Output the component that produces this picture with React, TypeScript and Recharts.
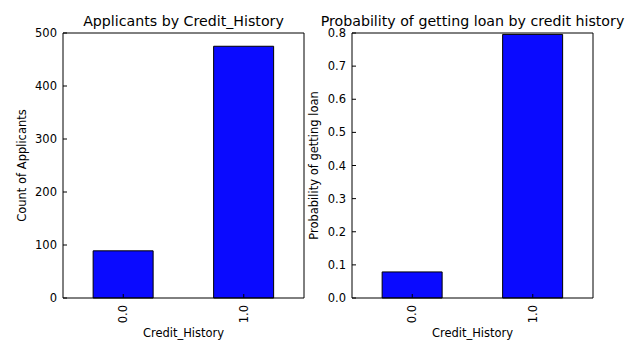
import React from 'react';
import { BarChart, Bar, XAxis, YAxis } from 'recharts';

const categories = ['0.0', '1.0'];
const applicantCounts = [89, 475];
const loanProbabilities = [0.0787, 0.7958];
const countTicks = [0, 100, 200, 300, 400, 500];
const probTicks = [0, 0.1, 0.2, 0.3, 0.4, 0.5, 0.6, 0.7, 0.8];

const countData = categories.map((c, i) => ({ ch: c, value: applicantCounts[i] }));
const probData = categories.map((c, i) => ({ ch: c, value: loanProbabilities[i] }));

const FONT = '"DejaVu Sans", sans-serif';
const TICK_FS = 11.5;

const XTick = (props: any) => {
  const { x, y, payload } = props;
  return (
    <text
      x={x}
      y={y}
      transform={`rotate(-90, ${x}, ${y})`}
      textAnchor="end"
      dominantBaseline="central"
      fontSize={TICK_FS}
      fill="#000"
      fontFamily={FONT}
    >
      {payload.value}
    </text>
  );
};

const axisStroke = { stroke: '#000', strokeWidth: 1 };

type PanelProps = {
  data: { ch: string; value: number }[];
  left: number;
  width: number;
  yWidth: number;
  rightMargin: number;
  domain: [number, number];
  ticks: number[];
  fmt: (v: number) => string;
  title: string;
  yLabel: string;
  yLabelX: number;
};

const Panel = (p: PanelProps) => {
  const plotLeft = p.yWidth;
  const plotRight = p.width - p.rightMargin;
  const cx = (plotLeft + plotRight) / 2;
  return (
    <div style={{ position: 'absolute', left: p.left, top: 0 }}>
      <BarChart
        width={p.width}
        height={353}
        data={p.data}
        margin={{ top: 32, right: p.rightMargin - 1, bottom: 15, left: 0 }}
        barCategoryGap="25%"
      >
        <XAxis
          dataKey="ch"
          xAxisId="b"
          orientation="bottom"
          height={40}
          tickSize={-4}
          tickMargin={11}
          interval={0}
          tick={<XTick />}
          axisLine={axisStroke}
          tickLine={axisStroke}
        />
        <XAxis
          dataKey="ch"
          xAxisId="t"
          orientation="top"
          height={1}
          tickSize={-4}
          interval={0}
          tick={false}
          axisLine={axisStroke}
          tickLine={axisStroke}
        />
        <YAxis
          yAxisId="l"
          width={p.yWidth}
          type="number"
          domain={p.domain}
          ticks={p.ticks}
          interval={0}
          tickSize={-4}
          tickMargin={10}
          tickFormatter={p.fmt}
          tick={{ fill: '#000', fontSize: TICK_FS, fontFamily: FONT }}
          axisLine={axisStroke}
          tickLine={axisStroke}
        />
        <YAxis
          yAxisId="r"
          orientation="right"
          width={1}
          type="number"
          domain={p.domain}
          ticks={p.ticks}
          interval={0}
          tickSize={-4}
          tick={false}
          axisLine={axisStroke}
          tickLine={axisStroke}
        />
        <Bar
          dataKey="value"
          xAxisId="b"
          yAxisId="l"
          fill="#0a0aff"
          stroke="#000"
          strokeWidth={1}
          isAnimationActive={false}
        />
        <text x={cx} y={26} textAnchor="middle" fontSize={14.2} fill="#000" fontFamily={FONT}>
          {p.title}
        </text>
        <text x={cx} y={336.5} textAnchor="middle" fontSize={TICK_FS} fill="#000" fontFamily={FONT}>
          Credit_History
        </text>
        <text
          x={p.yLabelX}
          y={165.5}
          transform={`rotate(-90, ${p.yLabelX}, 165.5)`}
          textAnchor="middle"
          dominantBaseline="central"
          fontSize={TICK_FS}
          fill="#000"
          fontFamily={FONT}
        >
          {p.yLabel}
        </text>
      </BarChart>
    </div>
  );
};

export default function App() {
  return (
    <div
      style={{
        position: 'absolute',
        left: 0,
        top: 0,
        width: 640,
        height: 353,
        background: '#fff',
        fontFamily: FONT,
        overflow: 'hidden',
      }}
    >
      <Panel
        data={countData}
        left={0}
        width={320}
        yWidth={63}
        rightMargin={16}
        domain={[0, 500]}
        ticks={countTicks}
        fmt={(v) => String(v)}
        title="Applicants by Credit_History"
        yLabel="Count of Applicants"
        yLabelX={22}
      />
      <Panel
        data={probData}
        left={300}
        width={340}
        yWidth={52}
        rightMargin={47}
        domain={[0, 0.8]}
        ticks={probTicks}
        fmt={(v) => v.toFixed(1)}
        title="Probability of getting loan by credit history"
        yLabel="Probability of getting loan"
        yLabelX={14}
      />
    </div>
  );
}
